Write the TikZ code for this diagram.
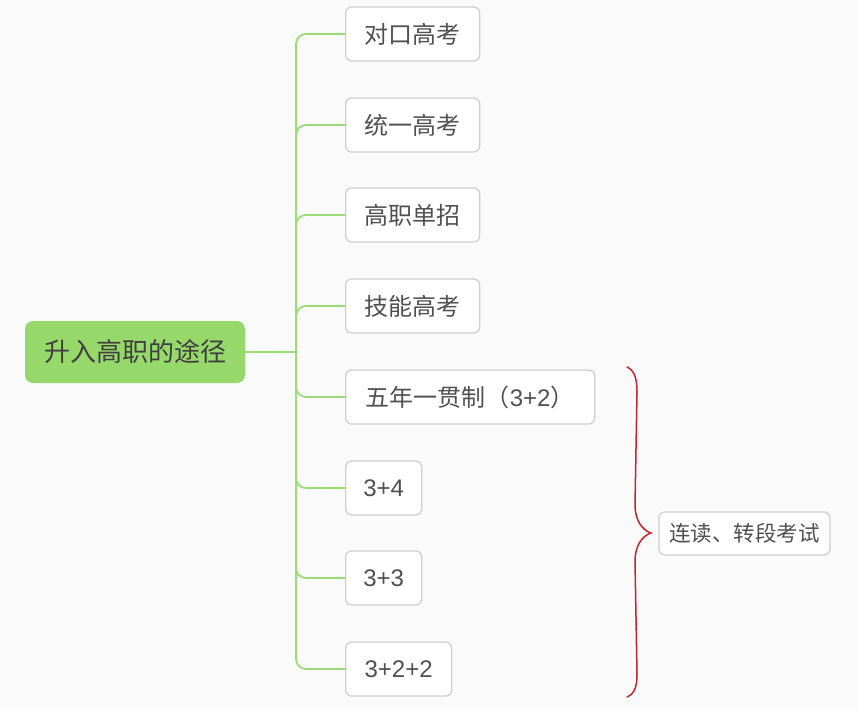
\documentclass[tikz,border=0pt]{standalone}
\usepackage{fontspec}
\setmainfont{Liberation Sans}
\newfontfamily\cjk{Noto Sans CJK SC}
\definecolor{bg}{HTML}{FAFAFA}
\definecolor{boxborder}{HTML}{CFCFCF}
\definecolor{txt}{HTML}{505050}
\definecolor{lgreen}{HTML}{9BDC78}
\definecolor{rootfill}{HTML}{96D96A}
\definecolor{bracered}{HTML}{C0272D}
\tikzset{
  box/.style={draw=boxborder, line width=1.3pt, fill=white, rounded corners=6pt,
    minimum height=54pt, inner sep=0pt, anchor=west, text=txt,
    font=\fontsize{24}{28}\selectfont},
  rootbox/.style={fill=rootfill, rounded corners=8pt, minimum width=220pt,
    minimum height=62pt, inner sep=0pt, text=txt!80!black,
    font=\fontsize{26}{30}\selectfont},
  link/.style={draw=lgreen, line width=1.8pt, rounded corners=10pt},
  bracestyle/.style={draw=bracered, line width=1.5pt, line cap=round},
}
\begin{document}
\begin{tikzpicture}[x=1pt,y=-1pt]
\fill[bg] (0,0) rectangle (858,709);
\useasboundingbox (0,0) rectangle (858,709);

\node[rootbox] (root) at (135,352) {\cjk 升入高职的途径};
\coordinate (j) at (296,352);

\node[box, minimum width=134pt] (n1) at (345,34) {\cjk 对口高考};
\node[box, minimum width=134pt] (n2) at (345,125) {\cjk 统一高考};
\node[box, minimum width=134pt] (n3) at (345,215) {\cjk 高职单招};
\node[box, minimum width=134pt] (n4) at (345,306) {\cjk 技能高考};
\node[box, minimum width=249pt] (n5) at (345,397) {{\cjk 五年一贯制（}3+2{\cjk ）}};
\node[box, minimum width=76pt] (n6) at (345,488) {3+4};
\node[box, minimum width=76pt] (n7) at (345,578) {3+3};
\node[box, minimum width=106pt] (n8) at (345,669) {3+2+2};

\draw[link, line width=2.5pt] (root.east) -- (j);
\foreach \n in {n1,n2,n3,n4,n5,n6,n7,n8}
  \draw[link] (j) |- (\n.west);

\node[box, anchor=center, minimum width=171pt, minimum height=43pt,
  font=\fontsize{21.5}{25}\selectfont] (note) at (744.5,533.5) {\cjk 连读、转段考试};

\coordinate (bt) at (627,367);
\coordinate (bm) at (651,533);
\coordinate (bb) at (627,697);
\draw[bracestyle] (bt) .. controls (634,370) and (637,378) .. (637,392)
  -- (635,505) .. controls (635,520) and (642,530) .. (bm)
  .. controls (642,536) and (635,546) .. (635,561)
  -- (637,674) .. controls (637,688) and (634,694) .. (bb);
\end{tikzpicture}
\end{document}
